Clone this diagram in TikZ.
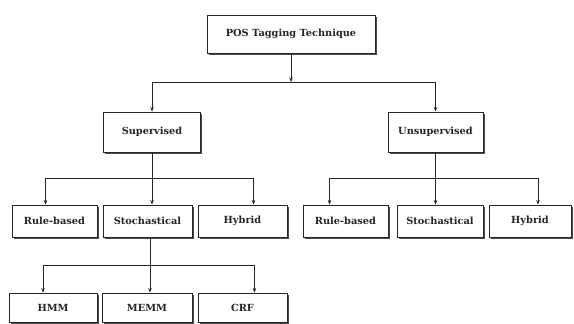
\documentclass[tikz,border=0pt]{standalone}
\usepackage{fontspec}
\setmainfont{DejaVu Serif}
\usetikzlibrary{arrows.meta,shadows}
\begin{document}
\begin{tikzpicture}[x=1pt,y=-1pt,
  box/.style={draw=black!85,line width=0.9pt,fill=white,inner sep=0pt,
    font=\fontsize{9.8}{11}\selectfont\bfseries,text=black!85,
    drop shadow={shadow xshift=1.6pt,shadow yshift=-1.6pt,fill=black!70,opacity=1}},
  arr/.style={-{Stealth[length=4.5pt,width=3.5pt]}},
  conn/.style={line width=0.9pt,draw=black!85}]
\useasboundingbox (0,0) rectangle (574,324);
\node[box,minimum width=168pt,minimum height=38pt] (top) at (291,34) {POS Tagging Technique};
\node[box,minimum width=97pt,minimum height=40pt] (sup) at (152,132) {Supervised};
\node[box,minimum width=95pt,minimum height=40pt] (uns) at (435.5,132) {Unsupervised};
\node[box,minimum width=85pt,minimum height=32pt] (rb1) at (54.5,221) {Rule-based};
\node[box,minimum width=89pt,minimum height=32pt] (st1) at (147.5,221) {Stochastical};
\node[box,minimum width=89pt,minimum height=32pt] (hy1) at (242.5,221) {Hybrid};
\node[box,minimum width=85pt,minimum height=32pt] (rb2) at (345.5,221) {Rule-based};
\node[box,minimum width=86pt,minimum height=32pt] (st2) at (440,221) {Stochastical};
\node[box,minimum width=82pt,minimum height=32pt] (hy2) at (530,221) {Hybrid};
\node[box,minimum width=88pt,minimum height=29pt] (hmm) at (53,307.5) {HMM};
\node[box,minimum width=90pt,minimum height=29pt] (memm) at (147,307.5) {MEMM};
\node[box,minimum width=89pt,minimum height=29pt] (crf) at (242.5,307.5) {CRF};
\coordinate (j0) at (291,82);
\coordinate (j1) at (152,178);
\coordinate (j2) at (435.5,178);
\coordinate (j3) at (150,265);
\draw[conn,arr] (top.south) -- (j0);
\draw[conn,arr] (j0) -| (sup.north);
\draw[conn,arr] (j0) -| (uns.north);
\draw[conn] (sup.south) -- (j1);
\draw[conn,arr] (j1) -| ([xshift=-9pt]rb1.north);
\draw[conn,arr] (j1) -- (j1 |- st1.north);
\draw[conn,arr] (j1) -| ([xshift=11pt]hy1.north);
\draw[conn] (uns.south) -- (j2);
\draw[conn,arr] (j2) -| ([xshift=-16pt]rb2.north);
\draw[conn,arr] (j2) -- (j2 |- st2.north);
\draw[conn,arr] (j2) -| ([xshift=8pt]hy2.north);
\draw[conn] (j3 |- st1.south) -- (j3);
\draw[conn,arr] (j3) -| ([xshift=-10pt]hmm.north);
\draw[conn,arr] (j3) -- (j3 |- memm.north);
\draw[conn,arr] (j3) -| ([xshift=12pt]crf.north);
\end{tikzpicture}
\end{document}
